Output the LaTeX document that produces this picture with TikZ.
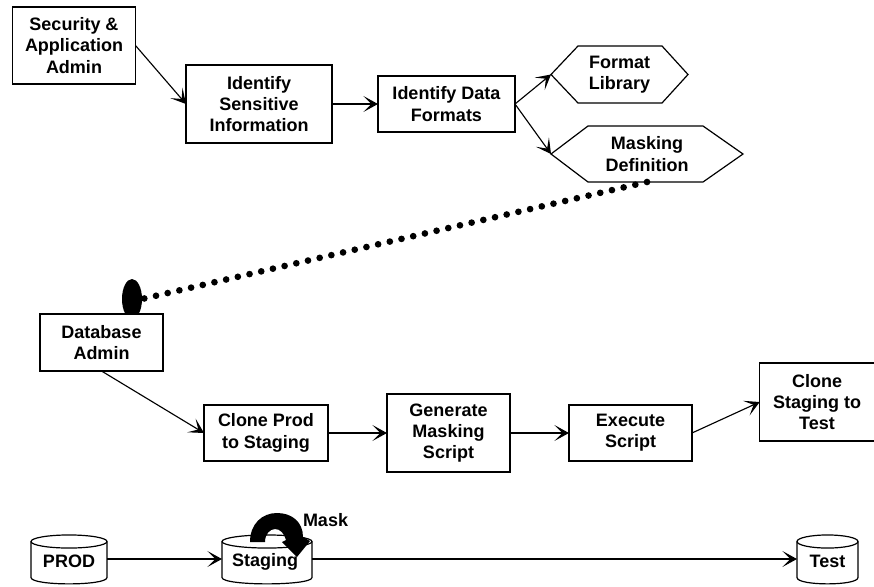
\documentclass[tikz,border=0pt]{standalone}
\usepackage{fontspec}
\setmainfont{Liberation Sans}
\usetikzlibrary{arrows.meta,shapes.geometric}
\newcommand{\drumshape}[2]{%
  \filldraw[hexline,fill=white] (#1,541.5) -- (#1,577.5) .. controls (#1,586) and (#2,586) .. (#2,577.5) -- (#2,541.5);
  \draw[hexline] ({(#1+#2)/2},541.5) ellipse [x radius={(#2-#1)*0.375pt}, y radius=4.9pt];
}
\newcommand{\lowtext}[1]{\rule{0pt}{13.6pt}#1}
\tikzset{
  x=0.75pt,y=-0.75pt,
  every node/.style={font=\fontsize{13.5}{16}\selectfont\bfseries,align=center,inner sep=0pt,outer sep=0pt},
  boxn/.style={draw=black,line width=1.1pt,fill=white},
  hexline/.style={draw=black,line width=0.9pt},
  link/.style={draw=black,line width=0.85pt,-{Stealth[length=11pt,width=12pt,inset=6pt]}},
  dotlink/.style={draw=black,line width=5pt,line cap=round,dash pattern=on 0pt off 9pt},
}
\begin{document}
\begin{tikzpicture}
\useasboundingbox (0,0) rectangle (874,586);
\fill[white] (0,0) rectangle (874,586);
% top row
\node[boxn,minimum width=92.25pt,minimum height=57.75pt] (sec) at (74,45.5) {Security \&\\Application\\Admin};
\node[boxn,minimum width=109.5pt,minimum height=58.5pt] (ident) at (259,104) {Identify\\Sensitive\\Information};
\node[boxn,minimum width=102.75pt,minimum height=42pt] (fmt) at (446.5,104) {Identify Data\\Formats};
% hexagons
\node[minimum width=102.75pt,minimum height=42.75pt] (lib) at (619.5,74.5) {Format\\Library};
\draw[hexline] (lib.west) -- (578,46) -- (662,46) -- (lib.east) -- (662,103) -- (578,103) -- cycle;
\node[minimum width=144pt,minimum height=42pt] (mask) at (647,154) {Masking\\Definition};
\draw[hexline] (mask.west) -- (588,126) -- (703,126) -- (mask.east) -- (703,182) -- (588,182) -- cycle;
% middle
\node[ellipse,fill=black,minimum width=15pt,minimum height=30pt] (ell) at (132,299) {};
\node[boxn,minimum width=92.25pt,minimum height=42.75pt] (dba) at (101.5,342.5) {Database\\Admin};
\node[boxn,minimum width=93pt,minimum height=42pt] (clone) at (266,433) {Clone Prod\\to Staging};
\node[boxn,minimum width=92.25pt,minimum height=58.5pt] (gen) at (448.5,433) {Generate\\Masking\\Script};
\node[boxn,minimum width=92.25pt,minimum height=42pt] (exec) at (630.5,433) {Execute\\Script};
\node[boxn,minimum width=86pt,minimum height=58.5pt] (test) at (817,402) {Clone\\Staging to\\Test};
% bottom drums
\drumshape{31}{107}
\drumshape{222}{312}
\drumshape{797}{858}
\node[minimum width=57pt,minimum height=36.75pt] (prod) at (69,559) {\lowtext{PROD}};
\node[minimum width=67.5pt,minimum height=36.75pt] (stag) at (267,559) {\hspace*{-3pt}\lowtext{Staging}};
\node[minimum width=45.75pt,minimum height=36.75pt] (tdb) at (827.5,559) {\lowtext{Test}};
% connectors
\draw[link] (sec.east) -- (ident.west);
\draw[link] (ident.east) -- (fmt.west);
\draw[link] (fmt.east) -- (lib.west);
\draw[link] (fmt.east) -- (mask.west);
\draw[dotlink] (mask.south) -- (ell.east);
\draw[link] (dba.south) -- (clone.west);
\draw[link] (clone.east) -- (gen.west);
\draw[link] (gen.east) -- (exec.west);
\draw[link] (exec.east) -- (test.west);
\draw[link] (prod.east) -- (stag.west);
\draw[link] (stag.east) -- (tdb.west);
% mask arrow
\fill[black] (250,542) .. controls (250,524) and (262,513) .. (277,513)
  .. controls (292,513) and (303,522) .. (303,537) -- (310,541) -- (297,557) -- (282,542)
  -- (286,540) .. controls (284,533) and (280,529) .. (275,529)
  .. controls (270,529) and (265,534) .. (265,542) -- cycle;
\node[anchor=west] (masklbl) at (303,520) {Mask};
\end{tikzpicture}
\end{document}
